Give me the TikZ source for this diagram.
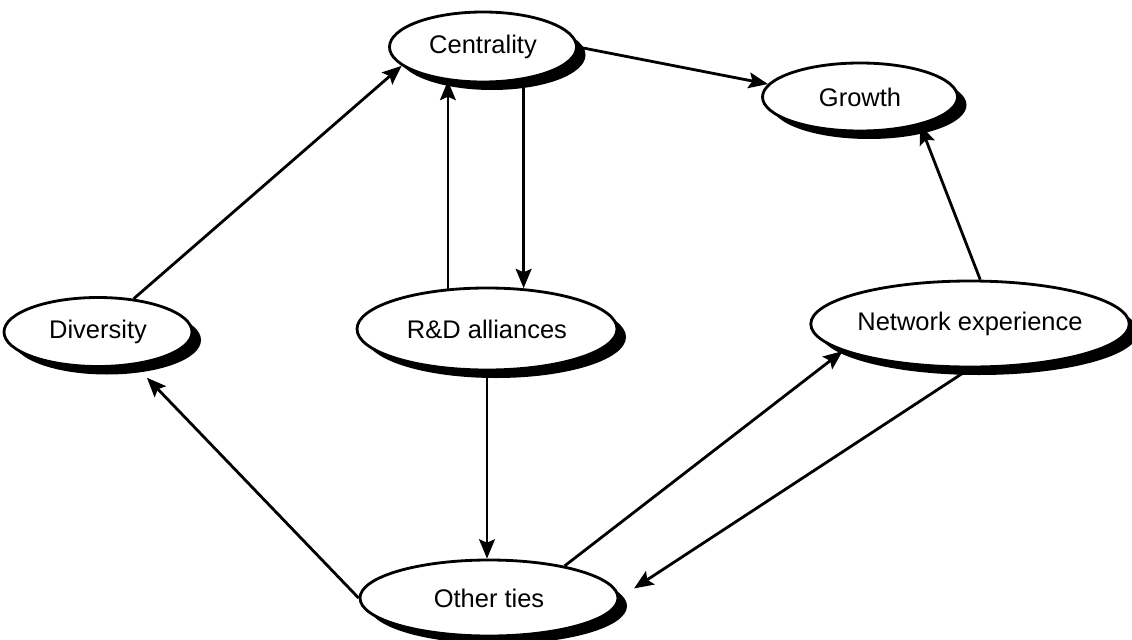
\documentclass[tikz,border=0pt]{standalone}
\usepackage{fontspec}
\setmainfont{Liberation Sans}
\usetikzlibrary{shapes,arrows.meta,shadows}

\begin{document}
\begin{tikzpicture}[transform shape,scale=1,
	blob/.style={ellipse,draw,line width=1.6pt,fill=white,inner sep=0pt,
		drop shadow={shadow xshift=0.18cm,shadow yshift=-0.16cm,fill=black,opacity=1},
		font=\fontsize{14.5}{17}\selectfont},
	arr/.style={line width=1.6pt,-{Stealth[length=11pt,width=9pt,inset=2pt]}}]
	\useasboundingbox (0,0) rectangle (22.64,12.78);
	\node[blob,minimum width=3.74cm,minimum height=1.40cm] (cent) at (9.66,11.84) {Centrality};
	\node[blob,minimum width=3.90cm,minimum height=1.36cm] (grow) at (17.20,10.84) {Growth};
	\node[blob,minimum width=3.76cm,minimum height=1.38cm] (div) at (1.96,6.14) {Diversity};
	\node[blob,minimum width=5.20cm,minimum height=1.64cm] (rd) at (9.74,6.20) {R\&D alliances};
	\node[blob,minimum width=5.44cm,minimum height=1.72cm] (net) at (19.40,6.30) {Network experience};
	\node[blob,minimum width=5.16cm,minimum height=1.52cm] (oth) at (9.78,0.82) {Other ties};
	\draw[arr] (cent.east) -- (grow.172);
	\draw[arr] (net.77) -- (grow.335);
	\draw[arr] (div.43) -- (cent.193);
	\draw[arr] (rd.134) -- (rd.134 |- cent.224);
	\draw[arr] (cent.321) -- (cent.321 |- rd.49);
	\draw[arr] (rd.south) -- (rd.south |- oth.north);
	\draw[arr,shorten >=0.35cm] (oth.west) -- (div.318);
	\draw[arr] (oth.23) -- (net.192);
	\draw[arr,shorten >=0.35cm] (net.south) -- (oth.east);
\end{tikzpicture}
\end{document}
